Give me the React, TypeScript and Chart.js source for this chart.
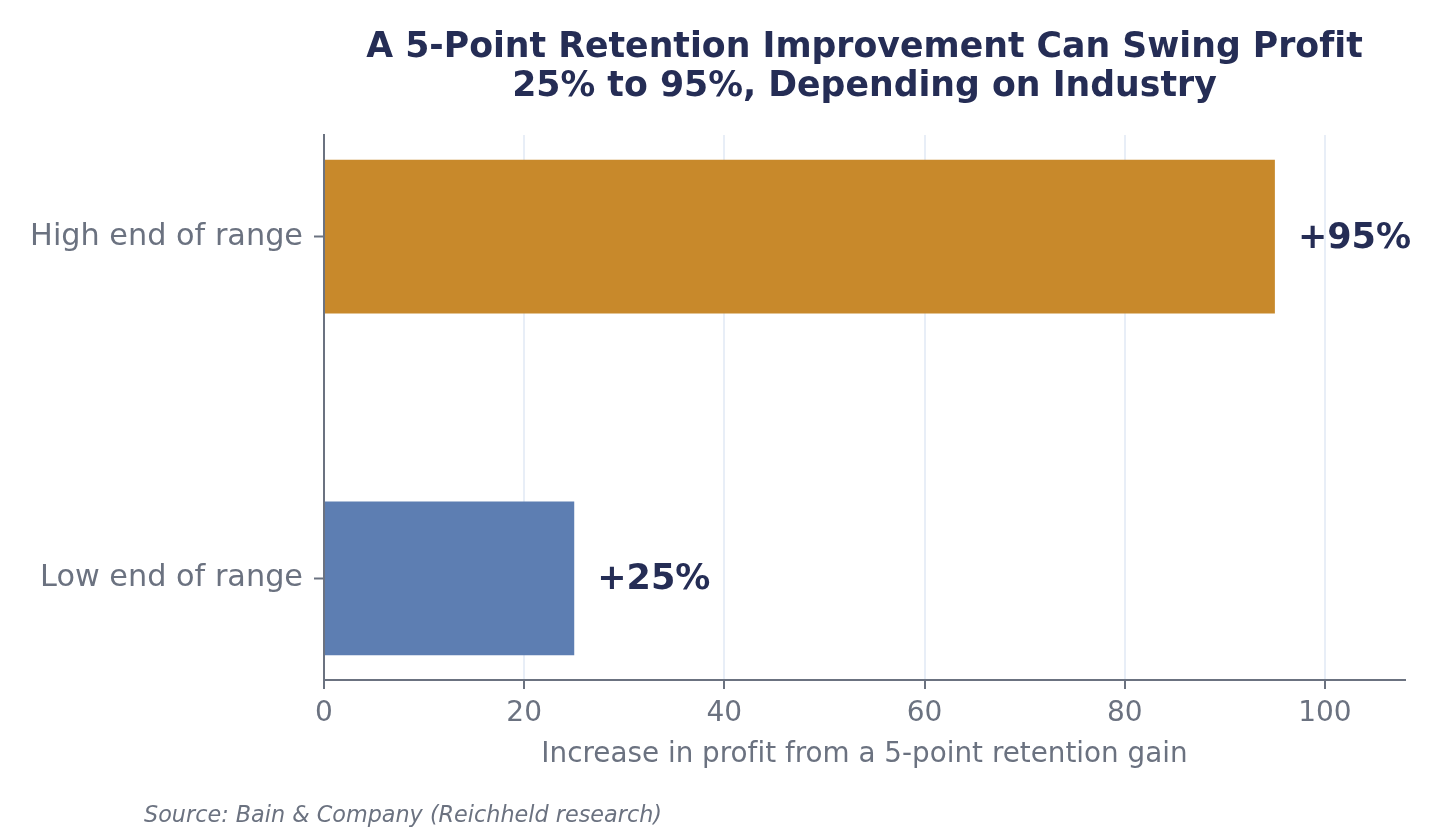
import React, { useEffect, useRef } from "react";
import { Chart, registerables } from "chart.js";

Chart.register(...registerables);

const categories = ["High end of range", "Low end of range"];
const values = [95, 25];
const valueLabels = ["+95%", "+25%"];
const barColors = ["#C8892B", "#5D7EB2"];
const xTicks = [0, 20, 40, 60, 80, 100];
const titleLines = [
  "A 5-Point Retention Improvement Can Swing Profit",
  "25% to 95%, Depending on Industry",
];
const xAxisTitle = "Increase in profit from a 5-point retention gain";
const sourceText = "Source: Bain & Company (Reichheld research)";

const FONT = "'DejaVu Sans', sans-serif";
const NAVY = "#252D55";
const GRAY = "#6B7280";

const textPlugin = {
  id: "textPlugin",
  afterDraw(chart: any) {
    const ctx = chart.ctx;
    const area = chart.chartArea;
    const xs = chart.scales.x;
    const ys = chart.scales.y;
    ctx.save();
    try {
      (ctx as any).letterSpacing = "0.01px";
    } catch (e) {}
    const cx = (area.left + area.right) / 2;
    // title
    ctx.fillStyle = NAVY;
    ctx.font = `bold 34.7px ${FONT}`;
    ctx.textAlign = "center";
    ctx.textBaseline = "alphabetic";
    ctx.fillText(titleLines[0], cx, 57);
    ctx.fillText(titleLines[1], cx, 96);
    // value labels
    ctx.font = `bold 35px ${FONT}`;
    ctx.textAlign = "left";
    values.forEach((v, i) => {
      ctx.fillText(valueLabels[i], xs.getPixelForValue(v) + 23, ys.getPixelForValue(i) + 11);
    });
    // x axis title
    ctx.fillStyle = GRAY;
    ctx.font = `27.8px ${FONT}`;
    ctx.textAlign = "center";
    ctx.fillText(xAxisTitle, cx, 762);
    // source
    ctx.font = `italic 22.3px ${FONT}`;
    ctx.textAlign = "left";
    ctx.fillText(sourceText, 144, 822);
    ctx.restore();
  },
};

export default function App() {
  const ref = useRef<HTMLCanvasElement>(null);
  useEffect(() => {
    document.body.style.margin = "0";
    const canvas = ref.current!;
    const chart = new Chart(canvas, {
      type: "bar",
      data: {
        datasets: [
          {
            data: categories.map((c, i) => ({ x: values[i], y: i })),
            backgroundColor: barColors,
            borderWidth: 0,
            categoryPercentage: 1,
            barPercentage: 0.45,
          },
        ],
      },
      options: {
        indexAxis: "y",
        animation: false,
        responsive: false,
        maintainAspectRatio: false,
        layout: { padding: { top: 135, right: 35, left: 0, bottom: 0 } },
        plugins: {
          legend: { display: false },
          tooltip: { enabled: false },
          title: { display: false },
        },
        scales: {
          x: {
            type: "linear",
            min: 0,
            max: 108,
            afterBuildTicks: (s: any) => {
              s.ticks = xTicks.map((v) => ({ value: v }));
            },
            ticks: {
              color: GRAY,
              font: { family: FONT, size: 28 },
              padding: 8,
            },
            grid: {
              drawOnChartArea: true,
              color: (c: any) => (c.tick && c.tick.value === 0 ? "rgba(0,0,0,0)" : "#E8EEF7"),
              lineWidth: 2,
              tickColor: GRAY,
              tickLength: 9,
              tickWidth: 2,
            },
            border: { display: true, color: GRAY, width: 2 },
            afterFit: (s: any) => {
              s.height = 160;
            },
          },
          y: {
            type: "linear",
            min: -0.2975,
            max: 1.2975,
            reverse: true,
            offset: false,
            afterBuildTicks: (s: any) => {
              s.ticks = categories.map((c, i) => ({ value: i }));
            },
            ticks: {
              color: GRAY,
              font: { family: FONT, size: 30.3 },
              padding: 11,
              callback: (v: any) => categories[v as number] ?? "",
            },
            grid: {
              offset: false,
              drawOnChartArea: false,
              tickColor: GRAY,
              tickLength: 10,
              tickWidth: 2,
            },
            border: { display: true, color: GRAY, width: 2 },
            afterFit: (s: any) => {
              s.width = 324;
            },
          },
        },
      },
      plugins: [textPlugin],
    });
    return () => chart.destroy();
  }, []);
  return <canvas ref={ref} width={1440} height={840} style={{ display: "block" }} />;
}
